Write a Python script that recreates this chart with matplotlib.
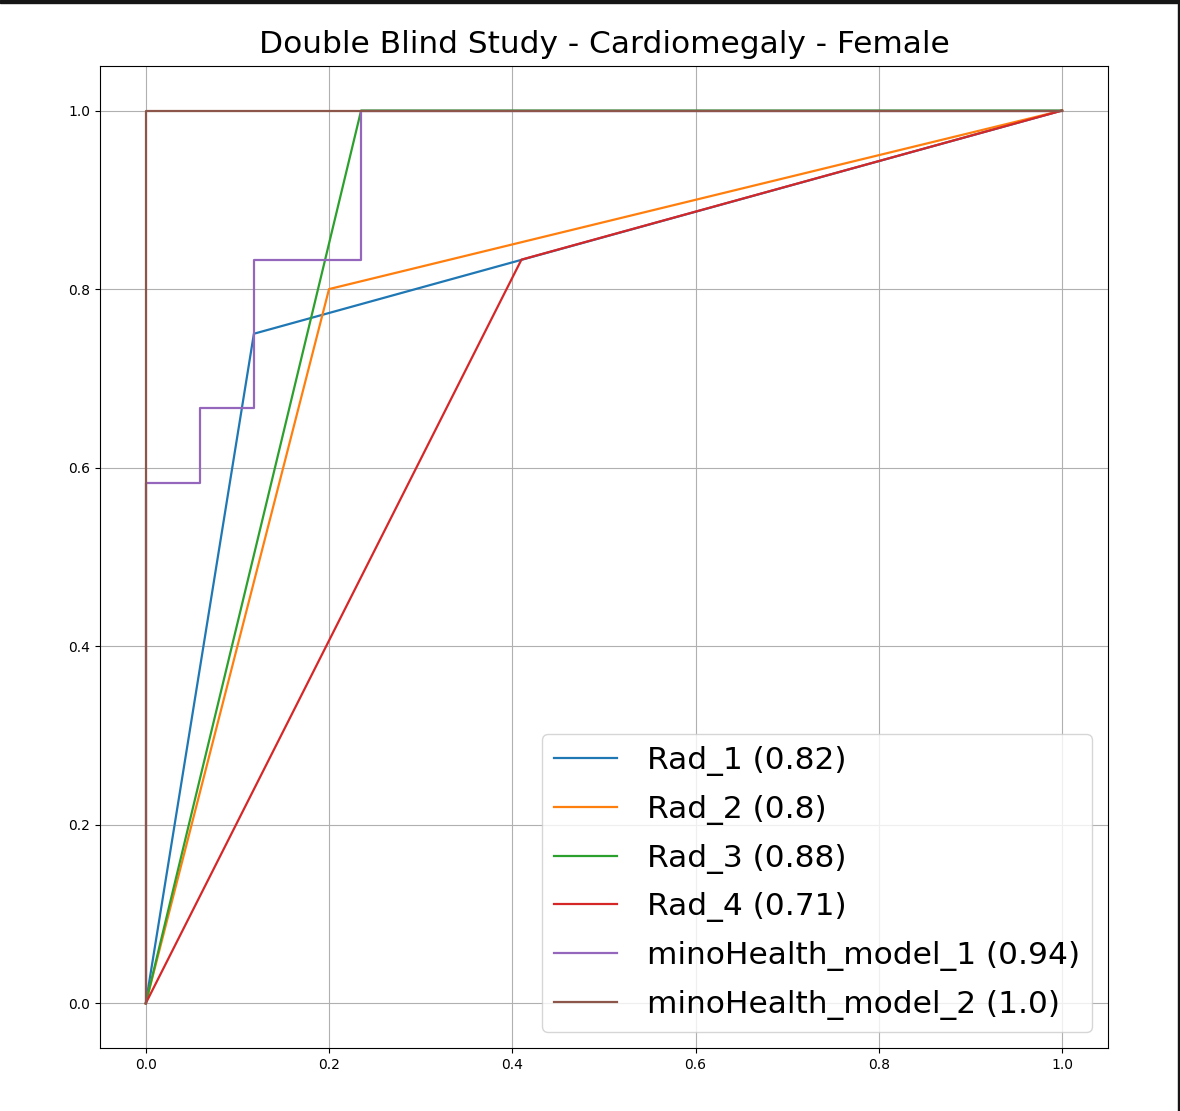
import matplotlib
matplotlib.use('Agg')
import matplotlib.pyplot as plt
from matplotlib.patches import Rectangle

# ROC curves (fpr, tpr)
rad1_fpr = [0.0, 0.118, 1.0]
rad1_tpr = [0.0, 0.75, 1.0]
rad2_fpr = [0.0, 0.2, 1.0]
rad2_tpr = [0.0, 0.8, 1.0]
rad3_fpr = [0.0, 0.235, 1.0]
rad3_tpr = [0.0, 1.0, 1.0]
rad4_fpr = [0.0, 0.41, 1.0]
rad4_tpr = [0.0, 0.833, 1.0]
m1_fpr = [0.0, 0.0, 0.0588, 0.0588, 0.1176, 0.1176, 0.235, 0.235, 1.0]
m1_tpr = [0.0, 0.583, 0.583, 0.667, 0.667, 0.833, 0.833, 1.0, 1.0]
m2_fpr = [0.0, 0.0, 1.0]
m2_tpr = [0.0, 1.0, 1.0]

labels = ['Rad_1 (0.82)', 'Rad_2 (0.8)', 'Rad_3 (0.88)', 'Rad_4 (0.71)',
          'minoHealth_model_1 (0.94)', 'minoHealth_model_2 (1.0)']
curves = [(rad1_fpr, rad1_tpr), (rad2_fpr, rad2_tpr), (rad3_fpr, rad3_tpr),
          (rad4_fpr, rad4_tpr), (m1_fpr, m1_tpr), (m2_fpr, m2_tpr)]

fig = plt.figure(figsize=(11.8, 11.11), dpi=100)
ax = fig.add_axes([0.0847, 0.0567, 0.8542, 0.884])

for (x, y), lab in zip(curves, labels):
    ax.plot(x, y, lw=1.6, label=lab)

ax.set_title('Double Blind Study - Cardiomegaly - Female', fontsize=22.5, pad=9)
ax.tick_params(labelsize=10)
ax.grid(True)
ax.legend(loc='lower right', fontsize=22.5, labelspacing=0.6, handletextpad=0.95)

# dark border strips from the screenshot
fig.patches.append(Rectangle((0, 0.997), 1, 0.003, transform=fig.transFigure,
                             color='#151515', zorder=10))
fig.patches.append(Rectangle((0.9983, 0), 0.0017, 1, transform=fig.transFigure,
                             color='#151515', zorder=10))

plt.savefig('out.png', dpi=100)
